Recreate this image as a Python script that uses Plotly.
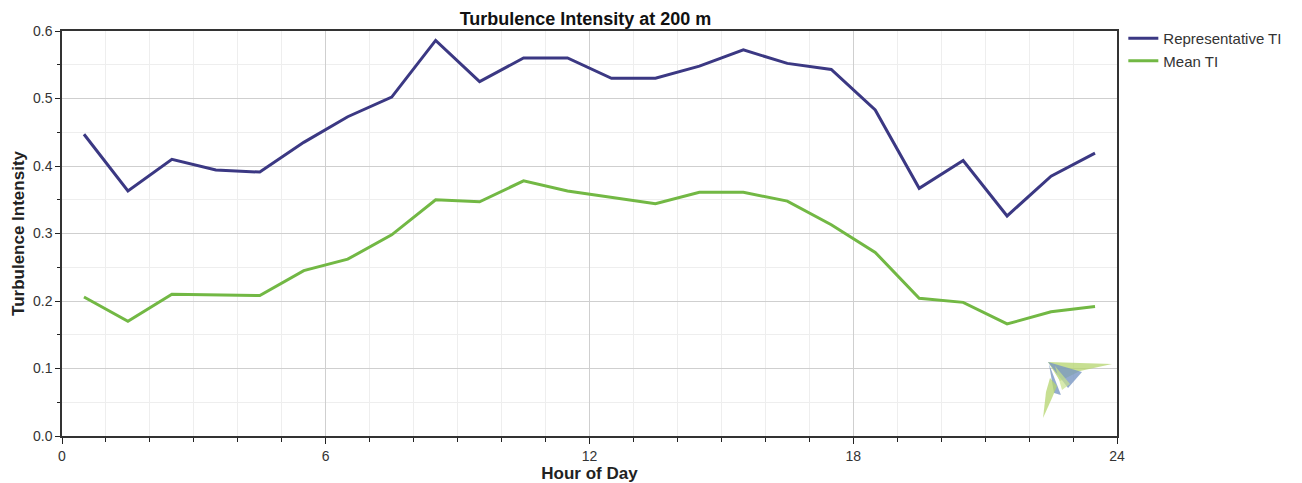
import plotly.graph_objects as go

hours = [0.5, 1.5, 2.5, 3.5, 4.5, 5.5, 6.5, 7.5, 8.5, 9.5, 10.5, 11.5,
         12.5, 13.5, 14.5, 15.5, 16.5, 17.5, 18.5, 19.5, 20.5, 21.5, 22.5, 23.5]
representative_ti = [0.447, 0.363, 0.410, 0.394, 0.391, 0.435, 0.473, 0.502,
                     0.586, 0.525, 0.560, 0.560, 0.530, 0.530, 0.548, 0.572,
                     0.552, 0.543, 0.483, 0.367, 0.408, 0.326, 0.385, 0.419]
mean_ti = [0.206, 0.170, 0.210, 0.209, 0.208, 0.245, 0.262, 0.298,
           0.350, 0.347, 0.378, 0.363, 0.353, 0.344, 0.361, 0.361,
           0.348, 0.313, 0.272, 0.204, 0.198, 0.166, 0.184, 0.192]
x_ticks = [0, 6, 12, 18, 24]
y_ticks = [0.0, 0.1, 0.2, 0.3, 0.4, 0.5, 0.6]

FONT = "Liberation Sans, Arial, sans-serif"
W, H = 1302, 483
L, R, T, B = 62, 185, 31, 47
PW, PH = W - L - R, H - T - B


def to_paper(pts):
    """Convert decoration points given in figure pixels to paper coords."""
    return [((px - L) / PW, (H - B - py) / PH) for px, py in pts]


def path_of(pts):
    p = to_paper(pts)
    return "M " + " L ".join("%.4f %.4f" % xy for xy in p) + " Z"


fig = go.Figure()
fig.add_trace(go.Scatter(x=hours, y=representative_ti, mode="lines",
                         name="Representative TI",
                         line=dict(color="#3b3883", width=3)))
fig.add_trace(go.Scatter(x=hours, y=mean_ti, mode="lines", name="Mean TI",
                         line=dict(color="#72b844", width=3)))

# faint logo watermark (decoration only)
logo_green = "rgba(180,212,110,0.75)"
logo_blue = "rgba(120,150,195,0.8)"
logo_parts = [
    ([(1048, 362), (1112, 364), (1080, 371), (1060, 381)], logo_green),
    ([(1048, 362), (1082, 372), (1068, 388)], logo_blue),
    ([(1049, 364), (1061, 395), (1054, 393)], logo_blue),
    ([(1050, 378), (1057, 386), (1052, 398), (1043, 418), (1046, 392)], logo_green),
    ([(1055, 366), (1070, 384), (1062, 390)], "rgba(200,225,140,0.7)"),
]
shapes = [dict(type="path", xref="paper", yref="paper", path=path_of(pts),
               fillcolor=col, line=dict(width=0), layer="above")
          for pts, col in logo_parts]

fig.update_layout(
    width=W, height=H,
    margin=dict(l=L, r=R, t=T, b=B, autoexpand=False),
    paper_bgcolor="white", plot_bgcolor="white",
    font=dict(family=FONT, size=14, color="#333333"),
    title=dict(text="<b>Turbulence Intensity at 200 m</b>",
               x=585.5 / W, xanchor="center",
               y=1 - 18.5 / H, yanchor="middle",
               font=dict(family=FONT, size=18, color="#111111")),
    showlegend=True,
    legend=dict(x=1.006, y=1.022, xanchor="left", yanchor="top",
                font=dict(family=FONT, size=15, color="#333333"),
                bgcolor="rgba(0,0,0,0)", tracegroupgap=0, itemwidth=30),
    shapes=shapes,
)

fig.update_xaxes(
    range=[0, 24], tickmode="array", tickvals=x_ticks,
    ticktext=[str(v) for v in x_ticks],
    showgrid=True, gridcolor="#cfcfcf", gridwidth=1,
    minor=dict(dtick=1, showgrid=True, gridcolor="#eeeeee", ticks="outside",
               ticklen=4, tickcolor="#222222"),
    ticks="outside", ticklen=6, tickcolor="#222222",
    showline=True, linecolor="#333333", linewidth=1.5, mirror=True,
    zeroline=False, automargin=False,
    title=dict(text="<b>Hour of Day</b>", standoff=1,
               font=dict(family=FONT, size=17, color="#222222")),
    tickfont=dict(family=FONT, size=14, color="#333333"),
)
fig.update_yaxes(
    range=[0, 0.6], tickmode="array", tickvals=y_ticks,
    ticktext=["%.1f" % v for v in y_ticks],
    showgrid=True, gridcolor="#cfcfcf", gridwidth=1,
    minor=dict(dtick=0.05, showgrid=True, gridcolor="#eeeeee",
               ticks="outside", ticklen=3, tickcolor="#222222"),
    ticks="outside", ticklen=5, tickcolor="#222222",
    showline=True, linecolor="#333333", linewidth=1.5, mirror=True,
    zeroline=False, automargin=False,
    title=dict(text="<b>Turbulence Intensity</b>", standoff=4,
               font=dict(family=FONT, size=17, color="#222222")),
    tickfont=dict(family=FONT, size=14, color="#333333"),
)

fig.write_html("out.html",
               config={"displayModeBar": False},
               post_script="document.body.style.margin='0';"
                           "document.body.style.overflow='hidden';")
